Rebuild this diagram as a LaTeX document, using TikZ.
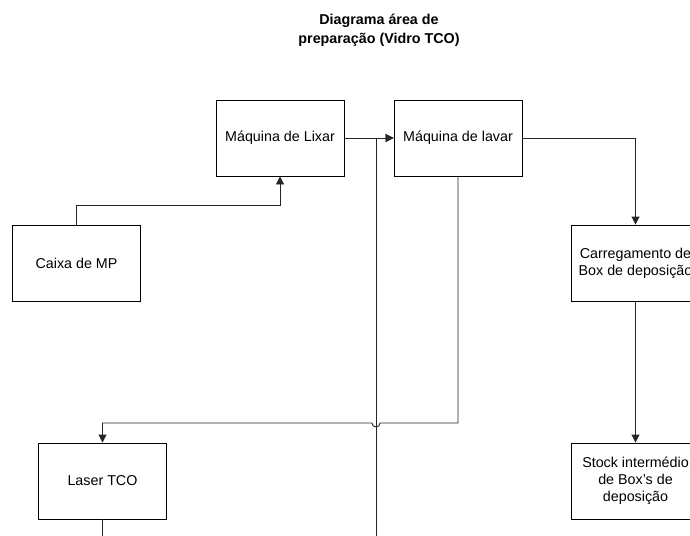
\documentclass[tikz,border=0pt]{standalone}
\usepackage{fontspec}
\setmainfont{Liberation Sans}
\usetikzlibrary{arrows.meta}
\begin{document}
\begin{tikzpicture}[x=1pt,y=-1pt,
  procbox/.style={draw=black,line width=0.9pt,minimum width=128pt,minimum height=76pt,
    inner sep=0pt,align=center,font=\fontsize{14.3}{17.2}\selectfont},
  flow/.style={draw=black!85,line width=0.9pt},
  arrowed/.style={flow,-{Triangle[length=8pt,width=8pt]}}]
\useasboundingbox (0,0) rectangle (690,535);
\clip (0,0) rectangle (690,535);

% title
\node[align=center,font=\bfseries\fontsize{14.3}{19}\selectfont] (title) at (379,30)
  {Diagrama área de\\preparação (Vidro TCO)};

% process boxes
\node[procbox] (lixar) at (280,138) {Máquina de Lixar};
\node[procbox] (lavar) at (458,138) {Máquina de lavar};
\node[procbox] (caixa) at (76.5,263) {Caixa de MP};
\node[procbox] (carr)  at (635.5,263) {Carregamento de\\Box de deposição};
\node[procbox] (laser) at (102.5,481) {Laser TCO};
\node[procbox] (stock) at (635.5,481) {Stock intermédio\\de Box’s de\\deposição};

% loose ends running off the sheet
\coordinate (feedin) at (376,540);
\coordinate (laserout) at (102.5,540);
\coordinate (jumpR) at (380,423);
\coordinate (jumpL) at (372,423);

% connectors
\draw[arrowed] (caixa.north) -- ++(0,-19) -| (lixar.south);
\draw[arrowed] (lixar.east) -- (lavar.west);
\draw[arrowed] (feedin) |- (lavar.west);
\draw[arrowed] (lavar.east) -| (carr.north);
\draw[arrowed] (carr.south) -- (stock.north);
\draw[arrowed] (lavar.south) |- (jumpR) arc[start angle=0,end angle=180,radius=4]
  -- (jumpL) -| (laser.north);
\draw[flow] (laser.south) -- (laserout);
\end{tikzpicture}
\end{document}
